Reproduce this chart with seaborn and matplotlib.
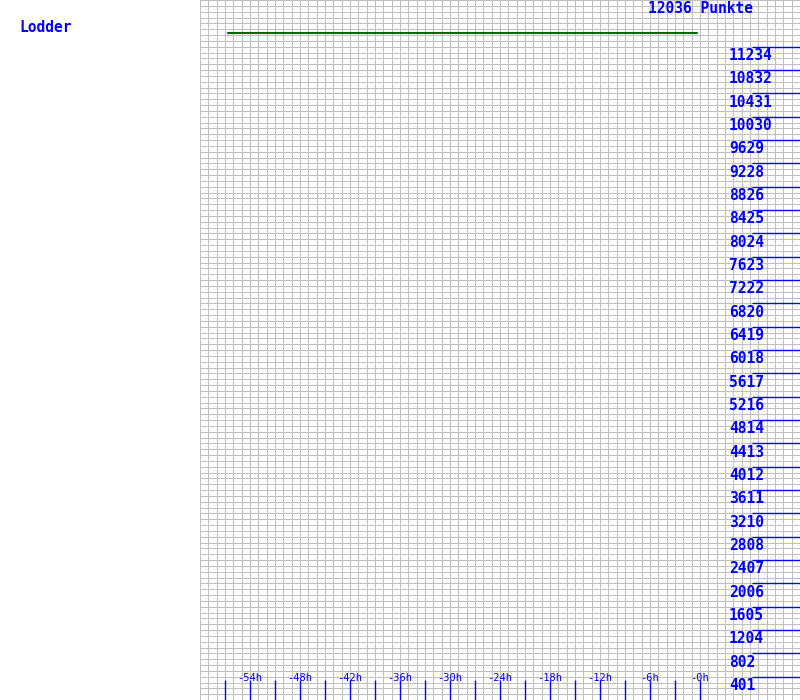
import matplotlib
matplotlib.use("Agg")
import matplotlib.pyplot as plt
import seaborn as sns
import pandas as pd
import numpy as np

# ---- data ----
title_left = "Lodder"
title_right = "12036 Punkte"
y_max = 12036
line_hours = [-56.6, -0.4]
line_points = [11470, 11470]
y_tick_values = [401, 802, 1204, 1605, 2006, 2407, 2808, 3210, 3611, 4012,
                 4413, 4814, 5216, 5617, 6018, 6419, 6820, 7222, 7623, 8024,
                 8425, 8826, 9228, 9629, 10030, 10431, 10832, 11234]
x_tick_hours = [-57, -54, -51, -48, -45, -42, -39, -36, -33, -30, -27, -24,
                -21, -18, -15, -12, -9, -6, -3, 0]
x_label_hours = [-54, -48, -42, -36, -30, -24, -18, -12, -6, 0]
x_label_texts = ["-54h", "-48h", "-42h", "-36h", "-30h", "-24h", "-18h",
                 "-12h", "-6h", "-0h"]

sns.set_style("white")
plt.rcParams['font.family'] = ['DejaVu Sans Mono', 'DejaVu Sans']

fig = plt.figure(figsize=(8, 7), dpi=100)
ax = fig.add_axes([200 / 800, 0, 600 / 800, 1])

x_min, x_max = -60, 12
ax.set_xlim(x_min, x_max)
ax.set_ylim(0, y_max)

# grid
grid_color = "#c0c0c0"
for xv in np.arange(x_min, x_max + 1, 1):
    ax.axvline(xv, color=grid_color, lw=0.72, zorder=0, antialiased=False)
step_y = y_max / 120
for k in range(121):
    ax.axhline(k * step_y, color=grid_color, lw=0.72, zorder=0, antialiased=False)

df = pd.DataFrame({"hours": line_hours, "points": line_points})
sns.lineplot(data=df, x="hours", y="points", color="#006600", lw=1.5, ax=ax, zorder=3)

blue = "#0000ff"
px_h = y_max / 700  # data units per vertical pixel
px_w = (x_max - x_min) / 600  # data units per horizontal pixel

# y ticks on right
ax.hlines(y_tick_values, x_min + 552 * px_w, x_max, color=blue, lw=1.0, zorder=4)
for v in y_tick_values:
    ax.text(x_min + 529 * px_w, v - 1.2 * px_h, str(v), color=blue, fontsize=10.5,
            fontweight="bold", ha="left", va="top", zorder=5)

# x ticks at bottom
ax.vlines(x_tick_hours, 0, 20 * px_h, color=blue, lw=1.0, zorder=4)
for h, t in zip(x_label_hours, x_label_texts):
    ax.text(h, 22 * px_h, t, color=blue, fontsize=7.5, ha="center", va="center", zorder=5)

ax.text(x_min + 448 * px_w, y_max - 1 * px_h, title_right, color=blue, fontsize=10.5,
        fontweight="bold", ha="left", va="top", zorder=5)

fig.text(19 / 800, 1 - 28 / 700, title_left, color=blue, fontsize=10.5,
         fontweight="bold", ha="left", va="center")

ax.set_xlabel("")
ax.set_ylabel("")
ax.set_xticks([])
ax.set_yticks([])
for s in ax.spines.values():
    s.set_visible(False)
if ax.get_legend():
    ax.get_legend().remove()

fig.savefig("out.png", dpi=100)
